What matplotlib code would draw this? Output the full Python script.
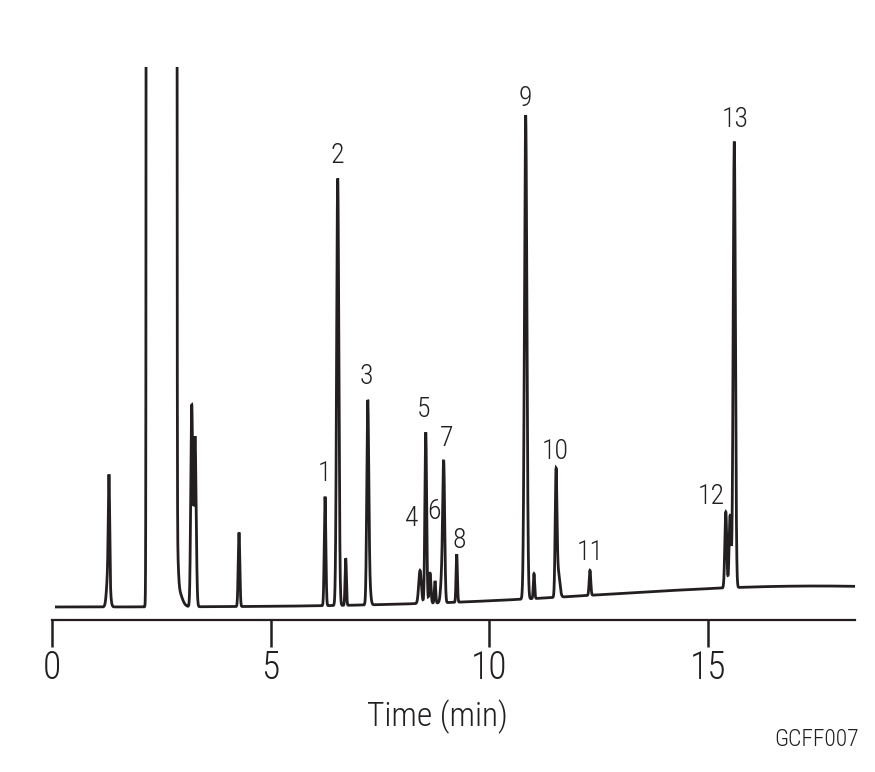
import numpy as np
import matplotlib
matplotlib.use('Agg')
import matplotlib.pyplot as plt

# peak table (time in min, height in detector units, width sigma in min)
peak_rt = [1.290, 1.303, 2.505, 2.860, 2.860, 3.195, 3.270, 4.276,
           6.243, 6.533, 6.716, 7.219, 7.250,
           8.415, 8.546, 8.644, 8.758, 8.920, 8.957, 9.254,
           10.830, 11.020, 11.525, 11.575, 12.300,
           15.406, 15.504, 15.600, 17.500]
peak_height = [40, 95, 1e20, 40, 20, 200, 170, 74,
               109, 427, 47, 190, 25,
               33, 171, 30, 22, 30, 128, 48,
               484, 25, 120, 25, 25,
               76, 72, 446, 21]
peak_sigma = [0.035, 0.015, 0.0398, 0.025, 0.09, 0.022, 0.025, 0.018,
              0.018, 0.025, 0.015, 0.022, 0.03,
              0.03, 0.02, 0.02, 0.015, 0.03, 0.022, 0.015,
              0.028, 0.015, 0.02, 0.035, 0.018,
              0.022, 0.022, 0.025, 4.8]

# numbered compounds
label_names = ['1', '2', '3', '4', '5', '6', '7', '8', '9', '10', '11', '12', '13']
label_rt = [6.243, 6.533, 7.219, 8.415, 8.546, 8.758, 8.957, 9.254,
            10.830, 11.525, 12.300, 15.406, 15.600]

# label offsets from the peak top, in pixels (dx, dy)
label_offset = {'1': (-1, 23), '2': (0, 23), '3': (-1, 24), '4': (-8, 52),
                '5': (-2, 23), '6': (-1, 70), '7': (3, 22), '8': (3, 14),
                '9': (0, 17), '10': (-1, 17), '11': (0, 18), '12': (-15, 15),
                '13': (1, 22)}

# build the trace from the peak table
t = np.arange(0.1, 18.36, 0.001)
signal = np.zeros_like(t)
for rt, h, s in zip(peak_rt, peak_height, peak_sigma):
    signal += h * np.exp(-0.5 * ((t - rt) / s) ** 2)
signal = np.minimum(signal, 1e4)

ink = '#231f20'
fam = ['Roboto Condensed', 'Roboto', 'DejaVu Sans']

fig = plt.figure(figsize=(8.75, 7.72), dpi=100)
ax = fig.add_axes([52 / 875, 152 / 772, 803 / 875, 553 / 772])
ax.plot(t, signal, color=ink, lw=2.0, solid_joinstyle='miter')
ax.set_xlim(0, 18.36)
ax.set_ylim(-13, 540)

for side in ['top', 'right', 'left']:
    ax.spines[side].set_visible(False)
ax.spines['bottom'].set_linewidth(1.6)
ax.spines['bottom'].set_color(ink)
ax.set_yticks([])
ax.set_xticks([0, 5, 10, 15])
ax.set_xticklabels(['0', '5', '10', '15'], family=fam, fontsize=27,
                   fontweight='light', color=ink)
ax.tick_params(axis='x', direction='out', length=19.5, width=1.8, color=ink, pad=2)

for name, rt in zip(label_names, label_rt):
    top = np.interp(rt, t, signal)
    dx, dy = label_offset[name]
    ax.annotate(name, xy=(rt, top), xytext=(dx * 0.72, dy * 0.72),
                textcoords='offset points', ha='center', va='center',
                family=fam, fontsize=20, fontweight='light', color=ink)

fig.text(437 / 875, 1 - 717 / 772, 'Time (min)', ha='center', va='center',
         family=fam, fontsize=24, fontweight='light', color=ink)
fig.text(859 / 875, 1 - 739 / 772, 'GCFF007', ha='right', va='center',
         family=fam, fontsize=17, fontweight='light', color=ink)

plt.savefig('out.png', dpi=100)
